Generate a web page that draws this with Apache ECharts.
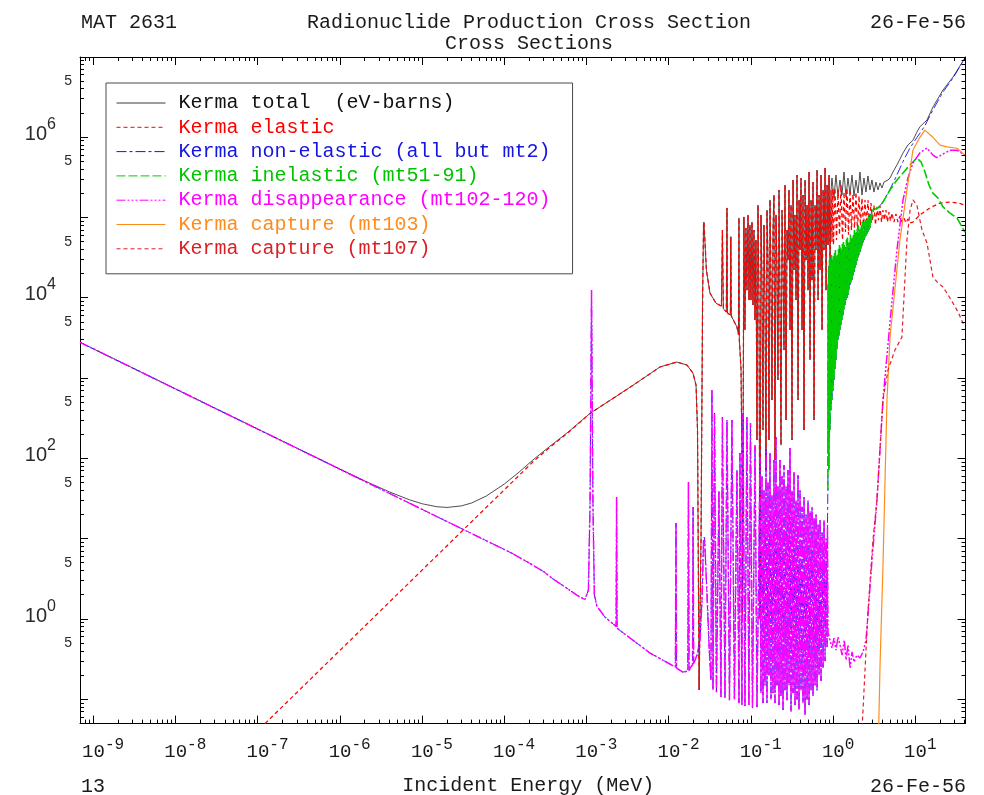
<!DOCTYPE html>
<html>
<head>
<meta charset="utf-8">
<title>26-Fe-56 Kerma</title>
<script src="https://cdn.jsdelivr.net/npm/echarts@6/dist/echarts.min.js"></script>
<style>
  html, body { margin: 0; padding: 0; background: #ffffff; }
  #chart { width: 984px; height: 795px; }
</style>
</head>
<body>
<div id="chart"></div>
<script>
// Axis ranges (MeV on x, eV-barns on y)
const X_MIN = 6.85e-10, X_MAX = 40.6;
const Y_MIN = 0.05, Y_MAX = 1e7;

// Tick / label positions
const xDecades = [1e-9, 1e-8, 1e-7, 1e-6, 1e-5, 1e-4, 1e-3, 1e-2, 1e-1, 1, 10];
const yDecades = [1e-1, 1, 10, 1e2, 1e3, 1e4, 1e5, 1e6, 1e7];
const yDecadeLabels = [1, 1e2, 1e4, 1e6];
const yFiveLabels = [0.5, 5, 50, 500, 5e3, 5e4, 5e5, 5e6];
const TICK_MULTS = [2, 3, 4, 5, 6, 7, 8, 9];

// ---- Kerma factors, [energy (MeV), kerma (eV-barns)] ----

// total: thermal 1/v part and the elastic shoulder
const totalLow = [
  [6.85e-10, 2800], [1e-7, 232], [1e-6, 73.7], [2e-6, 52.6], [4e-6, 38.3], [7e-6, 30.6],
  [1e-5, 27.3], [1.5e-5, 25.1], [2e-5, 24.6], [3e-5, 25.7], [4e-5, 28.0], [6e-5, 34.1],
  [1e-4, 48.3], [1.5e-4, 67.5], [2.22e-4, 96], [3.5e-4, 140], [5.77e-4, 208]
];

// elastic below the first resonance
const elasticLow = [
  [1.22e-7, 0.05], [1e-4, 41], [2.22e-4, 91], [3.5e-4, 136], [5.77e-4, 205]
];

// elastic in the resolved resonance range (total follows it closely here)
const elasticResolved = [
  [1.1e-3, 365], [3.36e-3, 770], [7.8e-3, 1380], [1.25e-2, 1590], [1.66e-2, 1460],
  [1.96e-2, 1160], [2.14e-2, 820], [2.23e-2, 226], [2.33e-2, 0.131], [2.46e-2, 10],
  [2.57e-2, 9400], [2.64e-2, 8.1e4], [2.67e-2, 8.8e4], [2.86e-2, 2.23e4], [3.16e-2, 1.15e4],
  [3.74e-2, 8600], [4.36e-2, 7900], [4.48e-2, 7.0e4], [4.6e-2, 7300], [4.81e-2, 7070],
  [5.0e-2, 6700], [5.09e-2, 1.32e5], [5.16e-2, 6500], [5.6e-2, 6100], [5.67e-2, 5.8e4],
  [5.75e-2, 5950], [6.03e-2, 5780], [6.73e-2, 4340], [7.02e-2, 3500], [7.12e-2, 9.9e4],
  [7.2e-2, 2990], [7.55e-2, 1270], [7.74e-2, 96], [7.85e-2, 1.0],
  [0.0818, 1.02e5], [0.0842, 3980], [0.0866, 7.4e4], [0.0891, 1.25e4], [0.0917, 1.08e5],
  [0.0943, 9400], [0.097, 8.1e4], [0.0997, 9400], [0.1026, 8.8e4], [0.1055, 8150],
  [0.1085, 7.0e4], [0.1115, 5300], [0.1147, 5.26e4], [0.118, 170], [0.1213, 1.43e5],
  [0.1248, 9400], [0.1283, 1.0], [0.1319, 1.08e5], [0.1357, 1.67e4], [0.1396, 226],
  [0.1435, 8.1e4], [0.1476, 9400], [0.1518, 72], [0.1561, 1.24e5], [0.1606, 2.96e4],
  [0.1651, 170], [0.1698, 1.66e5], [0.1747, 1.67e4], [0.1796, 535], [0.1847, 7.0e4],
  [0.19, 1.91e5], [0.1954, 96], [0.201, 1.08e5], [0.2067, 2.23e4], [0.2125, 950],
  [0.2186, 2.21e5], [0.2248, 9400], [0.2312, 147], [0.2378, 1.24e5], [0.2445, 2.57e4],
  [0.2515, 2240], [0.2586, 2.55e5], [0.266, 302], [0.2735, 7.0e4], [0.2813, 2.96e4],
  [0.2893, 2.21e5], [0.2976, 3980], [0.306, 1.43e5], [0.3147, 170], [0.3237, 2.94e5],
  [0.3329, 2.23e4], [0.3423, 1.08e5], [0.3521, 9400], [0.3621, 3.39e5], [0.3724, 535],
  [0.383, 1.66e5], [0.3939, 3.95e4], [0.4051, 3.11e5], [0.4166, 3980], [0.4285, 1.91e5],
  [0.4406, 226], [0.4532, 2.94e5], [0.4661, 2.96e4], [0.4793, 1.43e5], [0.493, 1.25e4],
  [0.507, 3.7e5], [0.5214, 1690], [0.5362, 1.66e5], [0.5515, 1.67e4], [0.5672, 2.77e5],
  [0.5833, 302], [0.5999, 1.43e5], [0.6169, 3.95e4], [0.6345, 3.92e5], [0.6525, 9400],
  [0.6711, 1.91e5], [0.6902, 2.23e4], [0.7098, 3.39e5], [0.73, 3980], [0.7508, 2.21e5],
  [0.7721, 3.95e4], [0.7941, 4.15e5], [0.8167, 1.25e4], [0.8399, 2.55e5], [0.8638, 4.56e4],
  [0.8883, 3.39e5], [0.9136, 2.57e4], [0.9396, 2.21e5]
];

// elastic above the inelastic threshold
const elasticHigh = [
  [0.964, 5.0e4], [0.985, 2.3e5], [1.006, 4.56e4], [1.049, 2.34e5], [1.094, 5.26e4], [1.141, 2.21e5],
  [1.19, 6.1e4], [1.241, 2.55e5], [1.294, 5.26e4], [1.35, 2.08e5], [1.408, 6.6e4],
  [1.468, 2.34e5], [1.531, 6.1e4], [1.597, 2.21e5], [1.665, 7.0e4], [1.736, 1.97e5],
  [1.811, 7.4e4], [1.888, 2.08e5], [1.969, 6.6e4], [2.054, 1.86e5], [2.142, 7.9e4],
  [2.234, 1.75e5], [2.33, 7.4e4], [2.43, 1.66e5], [2.534, 8.3e4], [2.642, 1.66e5],
  [2.756, 7.9e4], [2.874, 1.52e5], [2.997, 9.1e4], [3.126, 1.43e5], [3.26, 8.1e4],
  [3.40, 1.36e5], [3.545, 9.3e4], [3.70, 1.39e5], [3.86, 8.8e4], [4.02, 1.24e5],
  [4.19, 9.3e4], [4.37, 1.24e5], [4.56, 8.8e4], [4.76, 1.17e5], [4.96, 9.1e4],
  [5.18, 1.14e5], [5.47, 8.8e4], [5.78, 1.11e5], [6.12, 8.8e4], [6.47, 1.05e5],
  [6.84, 8.8e4], [7.24, 9.9e4], [7.65, 8.6e4], [8.09, 9.6e4], [8.56, 8.6e4],
  [9.33, 8.8e4], [11.3, 1.08e5], [15.0, 1.32e5], [19.9, 1.52e5], [26.3, 1.56e5],
  [32.9, 1.52e5], [40, 1.43e5]
];

// total above the inelastic threshold
const totalHigh = [
  [0.964, 3.11e5], [1.02, 1.75e5], [1.078, 3.39e5], [1.14, 1.86e5], [1.206, 2.94e5],
  [1.275, 1.91e5], [1.35, 3.7e5], [1.427, 1.80e5], [1.509, 3.11e5], [1.597, 1.97e5],
  [1.689, 3.39e5], [1.786, 1.86e5], [1.888, 2.94e5], [1.997, 2.02e5], [2.112, 3.7e5],
  [2.234, 1.91e5], [2.362, 3.11e5], [2.498, 2.08e5], [2.642, 3.3e5], [2.794, 2.21e5],
  [2.955, 2.94e5], [3.126, 2.08e5], [3.306, 2.77e5], [3.496, 2.21e5], [3.70, 2.7e5],
  [3.91, 2.34e5], [4.14, 2.77e5], [4.37, 2.62e5], [4.63, 2.94e5], [4.9, 3.11e5],
  [5.32, 3.7e5], [5.95, 4.52e5], [7.05, 6.38e5], [8.09, 8.03e5], [9.33, 9.2e5],
  [10.4, 1.16e6], [11.3, 1.35e6], [13.8, 1.64e6], [16.3, 2.38e6], [21.6, 3.88e6],
  [28.6, 5.63e6], [40, 9.7e6]
];

// non-elastic where it separates from the inelastic curve
const nonElasticHigh = [
  [4.9, 2.25e5], [5.95, 3.4e5], [7.05, 5.0e5], [8.56, 7.35e5], [10.4, 9.9e5],
  [12.95, 1.38e6], [16.3, 2.19e6], [21.6, 3.66e6], [28.6, 5.47e6], [40, 9.7e6]
];

// inelastic (mt51-91), threshold near 0.86 MeV
const inelastic = [
  [0.8593, 40.5], [0.866, 1.5e4], [0.871, 120], [0.876, 2.23e4], [0.8837, 72],
  [0.888, 2.5e4], [0.894, 180], [0.899, 2.96e4], [0.912, 226], [0.925, 3.1e4],
  [0.938, 400], [0.95, 3.42e4], [0.964, 535], [0.978, 3.0e4], [0.991, 700],
  [1.005, 3.3e4], [1.02, 950], [1.035, 3.6e4], [1.049, 1300], [1.063, 3.95e4],
  [1.078, 1690], [1.093, 3.3e4], [1.109, 2300], [1.125, 3.42e4], [1.14, 2990],
  [1.157, 4.0e4], [1.173, 3400], [1.19, 4.56e4], [1.206, 3980], [1.223, 4.2e4],
  [1.241, 4600], [1.258, 3.95e4], [1.275, 5300], [1.293, 4.7e4], [1.312, 6100],
  [1.331, 4.97e4], [1.35, 7070], [1.369, 4.5e4], [1.388, 8200], [1.407, 4.3e4],
  [1.427, 9400], [1.447, 5.3e4], [1.468, 1.0e4], [1.488, 5.6e4], [1.509, 1.09e4],
  [1.53, 4.8e4], [1.552, 1.25e4], [1.574, 4.97e4], [1.597, 1.45e4], [1.619, 6.1e4],
  [1.642, 1.55e4], [1.665, 5.5e4], [1.689, 1.67e4], [1.712, 5.6e4], [1.736, 1.9e4],
  [1.761, 6.0e4], [1.786, 2.1e4], [1.811, 7.0e4], [1.836, 2.3e4], [1.862, 6.4e4],
  [1.888, 2.57e4], [1.915, 6.6e4], [1.942, 2.9e4], [1.969, 7.2e4], [1.997, 3.14e4],
  [2.025, 7.9e4], [2.054, 3.4e4], [2.083, 7.0e4], [2.112, 3.73e4], [2.142, 7.4e4],
  [2.172, 4.1e4], [2.203, 8.0e4], [2.234, 4.43e4], [2.266, 8.8e4], [2.298, 4.9e4],
  [2.33, 8.4e4], [2.362, 5.26e4], [2.396, 8.8e4], [2.43, 5.6e4], [2.464, 9.2e4],
  [2.498, 5.9e4], [2.534, 9.9e4], [2.57, 6.3e4], [2.606, 9.5e4], [2.642, 6.6e4],
  [2.68, 1.05e5], [2.717, 7.0e4], [2.756, 1.02e5], [2.794, 7.4e4], [2.834, 1.1e5],
  [2.874, 8.4e4], [2.95, 1.14e5], [3.04, 1.24e5], [3.496, 1.32e5], [4.02, 1.56e5],
  [4.9, 2.21e5], [5.95, 2.94e5], [7.05, 3.6e5], [8.56, 4.52e5], [10.4, 5.53e5],
  [11.7, 4.92e5], [13.05, 3.7e5], [14.6, 2.55e5], [16.3, 2.02e5], [18.8, 1.75e5],
  [21.6, 1.36e5], [26.3, 1.14e5], [32, 9.9e4], [40, 6.6e4]
];

// disappearance (mt102-120)
const disappearance = [
  [6.85e-10, 2800], [1.2e-4, 6.7], [2.0e-4, 5.0], [3.0e-4, 3.9], [4.0e-4, 3.1],
  [5.5e-4, 2.5], [7.5e-4, 2.0], [9.5e-4, 1.75],
  [1.05e-3, 2.3], [1.10e-3, 30], [1.145e-3, 1.25e4], [1.19e-3, 30], [1.24e-3, 2.0],
  [1.33e-3, 1.45], [1.67e-3, 1.06], [2.28e-3, 0.81], [2.31e-3, 33], [2.34e-3, 0.77],
  [5.9e-3, 0.378], [1.2e-2, 0.253], [1.22e-2, 15.7], [1.24e-2, 0.246], [1.48e-2, 0.219],
  [1.70e-2, 0.225], [1.73e-2, 51], [1.76e-2, 0.23], [1.85e-2, 0.253],
  [1.94e-2, 0.27], [1.97e-2, 24.9], [2.0e-2, 0.28], [2.2e-2, 0.357], [2.39e-2, 0.55],
  [2.53e-2, 1.73], [2.64e-2, 9.7], [2.71e-2, 10.5], [2.86e-2, 3.07], [3.1e-2, 0.412],
  [3.25e-2, 0.174], [3.34e-2, 713], [3.44e-2, 0.131], [3.59e-2, 368], [3.79e-2, 0.12],
  [4.06e-2, 40], [4.30e-2, 0.107], [4.48e-2, 328], [4.81e-2, 0.104], [5.09e-2, 302],
  [5.46e-2, 0.098], [5.85e-2, 302], [6.27e-2, 0.098], [6.73e-2, 72], [7.12e-2, 0.09],
  [7.32e-2, 117], [7.74e-2, 0.085], [7.96e-2, 368], [8.42e-2, 0.083], [8.9e-2, 328],
  [9.41e-2, 0.085], [9.83e-2, 277], [0.104, 0.078], [0.1116, 147], [0.118, 0.08],
  [0.1283, 104], [0.1319, 0.12], [0.1357, 60], [0.1396, 0.09], [0.1435, 40],
  [0.1476, 0.15], [0.1518, 128], [0.1561, 0.09], [0.1606, 50], [0.1651, 0.2],
  [0.1698, 120], [0.1747, 0.1], [0.1796, 35], [0.1847, 0.12], [0.19, 96],
  [0.1954, 0.09], [0.201, 185], [0.2067, 0.15], [0.2125, 45], [0.2186, 0.085],
  [0.2248, 96], [0.2312, 0.11], [0.2378, 60], [0.2445, 0.074], [0.2515, 83],
  [0.2586, 0.13], [0.266, 45], [0.2735, 0.098], [0.2813, 72], [0.2893, 0.15],
  [0.2976, 135], [0.306, 0.07], [0.3147, 40], [0.3237, 0.12], [0.3329, 68],
  [0.3423, 0.085], [0.3521, 30], [0.3621, 0.1], [0.3724, 62], [0.383, 0.074],
  [0.3939, 40], [0.4051, 0.13], [0.4166, 25], [0.4285, 0.09], [0.4406, 33],
  [0.4532, 0.064], [0.4661, 20], [0.4793, 0.1], [0.493, 30], [0.507, 0.085],
  [0.5214, 22], [0.5362, 0.13], [0.5515, 25], [0.5672, 0.11], [0.5833, 18],
  [0.5999, 0.15], [0.6169, 20], [0.6345, 0.13], [0.6525, 15], [0.6711, 0.2],
  [0.6902, 17], [0.7098, 0.17], [0.73, 12], [0.7508, 0.25], [0.7721, 17],
  [0.7941, 0.3], [0.8167, 10], [0.8399, 0.45], [0.85, 15], [0.8638, 0.67],
  [0.912, 0.55], [0.964, 0.437], [1.02, 0.58], [1.08, 0.41], [1.14, 0.60],
  [1.21, 0.476], [1.28, 0.357], [1.36, 0.55], [1.43, 0.31], [1.51, 0.476],
  [1.6, 0.246], [1.69, 0.39], [1.79, 0.292], [1.94, 0.357], [2.11, 0.328],
  [2.3, 0.39], [2.5, 0.55], [2.64, 1.12], [2.96, 5.45], [3.4, 30.4],
  [4.02, 535], [4.9, 5000], [5.95, 3.95e4], [7.05, 1.66e5], [8.1, 3.11e5],
  [9.32, 4.79e5], [11.3, 6.38e5], [13.8, 7.37e5], [16.3, 6.0e5], [18.2, 5.6e5],
  [21.6, 6.2e5], [26.3, 6.9e5], [32, 6.9e5], [40, 6.0e5]
];

// capture (mt103)
const captureMt103 = [
  [3.54, 0.03], [3.7, 0.253], [4.02, 4.46], [4.5, 535], [4.9, 3260], [6.47, 5.26e4],
  [7.87, 2.21e5], [9.32, 6.94e5], [11.3, 1.0e6], [13.0, 1.23e6], [16.3, 1.0e6],
  [19.9, 8.0e5], [24.2, 7.6e5], [32, 7.3e5], [40, 6.0e5]
];

// capture (mt107)
const captureMt107 = [
  [2.2, 0.03], [2.64, 1.22], [3.04, 9.7], [3.4, 30.4], [4.02, 535], [4.63, 1270],
  [5.63, 2240], [6.84, 3260], [7.87, 5.26e4], [8.6, 1.24e5], [9.32, 1.66e5],
  [10.4, 1.43e5], [12.0, 7.0e4], [13.8, 4.83e4], [16.3, 1.82e4], [18.8, 1.53e4],
  [21.6, 1.37e4], [24.9, 1.09e4], [28.6, 8600], [32.9, 6700], [37.8, 4860], [40, 4600]
];

// ---- chart ----
const MONO = '"Liberation Mono", "DejaVu Sans Mono", monospace';
const SANS = '"Liberation Sans", "DejaVu Sans", sans-serif';
const INK = '#1a1a1a';

function minorTicks(lo, hi) {
  const out = [];
  for (let p = Math.floor(Math.log10(lo)); p <= Math.ceil(Math.log10(hi)); p++) {
    for (const m of TICK_MULTS) {
      const v = m * Math.pow(10, p);
      if (v > lo * 1.0001 && v < hi * 0.9999) out.push(v);
    }
  }
  return out;
}

// tick marks on all four sides of the frame: [value, side, length]
// side: 0 bottom, 1 left, 2 top, 3 right
const frameTicks = [];
xDecades.forEach(v => frameTicks.push([v, 0, 8], [v, 2, 8]));
minorTicks(X_MIN, X_MAX).forEach(v => frameTicks.push([v, 0, 4], [v, 2, 4]));
yDecades.filter(v => v < Y_MAX).forEach(v => frameTicks.push([v, 1, 8], [v, 3, 8]));
minorTicks(Y_MIN, Y_MAX).forEach(v => frameTicks.push([v, 1, 4], [v, 3, 4]));

function renderTick(params, api) {
  const v = api.value(0), side = api.value(1), len = api.value(2);
  let p, dx = 0, dy = 0;
  if (side === 0) { p = api.coord([v, Y_MIN]); dy = -len; }
  else if (side === 2) { p = api.coord([v, Y_MAX]); dy = len; }
  else if (side === 1) { p = api.coord([X_MIN, v]); dx = len; }
  else { p = api.coord([X_MAX, v]); dx = -len; }
  let x = p[0], y = p[1];
  if (dy !== 0) x = Math.round(x - 0.5) + 0.5; else y = Math.round(y - 0.5) + 0.5;
  return {
    type: 'line',
    shape: { x1: x, y1: y, x2: x + dx, y2: y + dy },
    style: { stroke: '#000', lineWidth: 1 }
  };
}

const curves = [
  { name: 'Kerma total  (eV-barns)', data: totalLow.concat(elasticResolved, totalHigh),
    color: '#3a3a3a', dash: 'solid', width: 0.9, text: '#111111' },
  { name: 'Kerma elastic', data: elasticLow.concat(elasticResolved, elasticHigh),
    color: '#ff0000', dash: [4, 3], width: 1.25, text: '#ff0000' },
  { name: 'Kerma non-elastic (all but mt2)',
    data: disappearance.filter(p => p[0] < 0.86).concat(inelastic.filter(p => p[0] <= 4.02), nonElasticHigh),
    color: '#1010ff', dash: [10, 3, 3, 3], width: 0.9, text: '#1515e0' },
  { name: 'Kerma inelastic (mt51-91)', data: inelastic,
    color: '#00cc00', dash: [9, 3], width: 1.6, text: '#00c400' },
  { name: 'Kerma disappearance (mt102-120)', data: disappearance,
    color: '#ff00ff', dash: [9, 2, 2, 2, 2, 2, 2, 2], width: 1.5, text: '#ff00ff' },
  { name: 'Kerma capture (mt103)', data: captureMt103,
    color: '#ff8c1a', dash: 'solid', width: 1.2, text: '#ff8c1a' },
  { name: 'Kerma capture (mt107)', data: captureMt107,
    color: '#e0202a', dash: [4, 3], width: 1.2, text: '#dc1f26' }
];

function baseLogAxis(isX, position, showLine) {
  return {
    type: 'log',
    position: position,
    min: isX ? X_MIN : Y_MIN,
    max: isX ? X_MAX : Y_MAX,
    splitLine: { show: false },
    axisLine: { show: showLine, onZero: false, lineStyle: { color: '#000', width: 1 } },
    axisTick: { show: false },
    axisLabel: { show: false },
    silent: true
  };
}

const xBottom = baseLogAxis(true, 'bottom', true);
xBottom.axisLabel = {
  show: true, customValues: xDecades, margin: 13,
  formatter: function (v) {
    const e = String(Math.round(Math.log10(v)));
    return '{s' + e.length + '| }{b|10}{e|' + e + '}';
  },
  rich: {
    b: { fontFamily: MONO, fontSize: 19, lineHeight: 30, color: INK },
    e: { fontFamily: MONO, fontSize: 16, lineHeight: 16, verticalAlign: 'top', color: INK },
    s1: { fontFamily: MONO, fontSize: 16, width: 9.6 },
    s2: { fontFamily: MONO, fontSize: 16, width: 19.2 }
  }
};
xBottom.name = 'Incident Energy (MeV)';
xBottom.nameLocation = 'middle';
xBottom.nameGap = 52;
xBottom.nameTextStyle = { fontFamily: MONO, fontSize: 20, color: INK, padding: [0, 0, 0, 11] };

const yLeft = baseLogAxis(false, 'left', true);
yLeft.axisLabel = {
  show: true, customValues: yDecadeLabels, margin: 24,
  formatter: function (v) {
    return '{b|10}{e|' + Math.round(Math.log10(v)) + '}\n{sp| }';
  },
  rich: {
    b: { fontFamily: SANS, fontSize: 20, lineHeight: 36, color: '#2a2a2a' },
    e: { fontFamily: SANS, fontSize: 16, lineHeight: 16, verticalAlign: 'top', color: '#2a2a2a' },
    sp: { fontSize: 6, lineHeight: 6 }
  }
};

const yLeftFives = baseLogAxis(false, 'left', false);
yLeftFives.axisLabel = {
  show: true, customValues: yFiveLabels, margin: 8,
  fontFamily: SANS, fontSize: 14, color: '#2a2a2a',
  formatter: function () { return '5'; }
};

const headFont = { fontFamily: MONO, fontSize: 20, fontWeight: 'normal', color: INK };

const option = {
  animation: false,
  backgroundColor: '#ffffff',
  textStyle: { fontFamily: MONO },
  title: [
    { text: 'MAT 2631', left: 81, top: 13, padding: 0, textStyle: headFont },
    { text: 'Radionuclide Production Cross Section', left: 529, top: 13, padding: 0,
      textAlign: 'center', textStyle: headFont },
    { text: 'Cross Sections', left: 529, top: 34, padding: 0, textAlign: 'center', textStyle: headFont },
    { text: '26-Fe-56', right: 18, top: 13, padding: 0, textStyle: headFont },
    { text: '13', left: 81, top: 777, padding: 0, textStyle: headFont },
    { text: '26-Fe-56', right: 18, top: 777, padding: 0, textStyle: headFont }
  ],
  legend: {
    left: 106, top: 83,
    orient: 'vertical',
    selectedMode: false,
    backgroundColor: '#ffffff',
    borderColor: '#4a4a4a', borderWidth: 1,
    padding: [10, 22, 15, 10],
    itemWidth: 49, itemHeight: 14, itemGap: 4.3,
    itemStyle: { opacity: 0 },
    lineStyle: { width: 1 },
    textStyle: { fontFamily: MONO, fontSize: 20, lineHeight: 20, padding: [0, 0, 0, 8] },
    data: curves.map(c => ({ name: c.name, textStyle: { color: c.text } }))
  },
  grid: { left: 80, right: 18.5, top: 57, bottom: 71.4, outerBoundsMode: 'none', containLabel: false },
  xAxis: [xBottom, baseLogAxis(true, 'top', true)],
  yAxis: [yLeft, yLeftFives, baseLogAxis(false, 'right', true)],
  series: curves.map(c => ({
    name: c.name,
    type: 'line',
    xAxisIndex: 0,
    yAxisIndex: 0,
    data: c.data,
    symbol: 'none',
    showSymbol: false,
    clip: true,
    silent: true,
    color: c.color,
    lineStyle: { color: c.color, width: c.width, type: c.dash },
    emphasis: { disabled: true }
  })).concat([{
    name: 'frame ticks',
    type: 'custom',
    xAxisIndex: 0,
    yAxisIndex: 0,
    data: frameTicks,
    encode: { x: 0, y: 0 },
    renderItem: renderTick,
    clip: false,
    silent: true,
    z: 5
  }])
};

const chart = echarts.init(document.getElementById('chart'), null, { renderer: 'canvas' });
chart.setOption(option);
</script>
</body>
</html>
